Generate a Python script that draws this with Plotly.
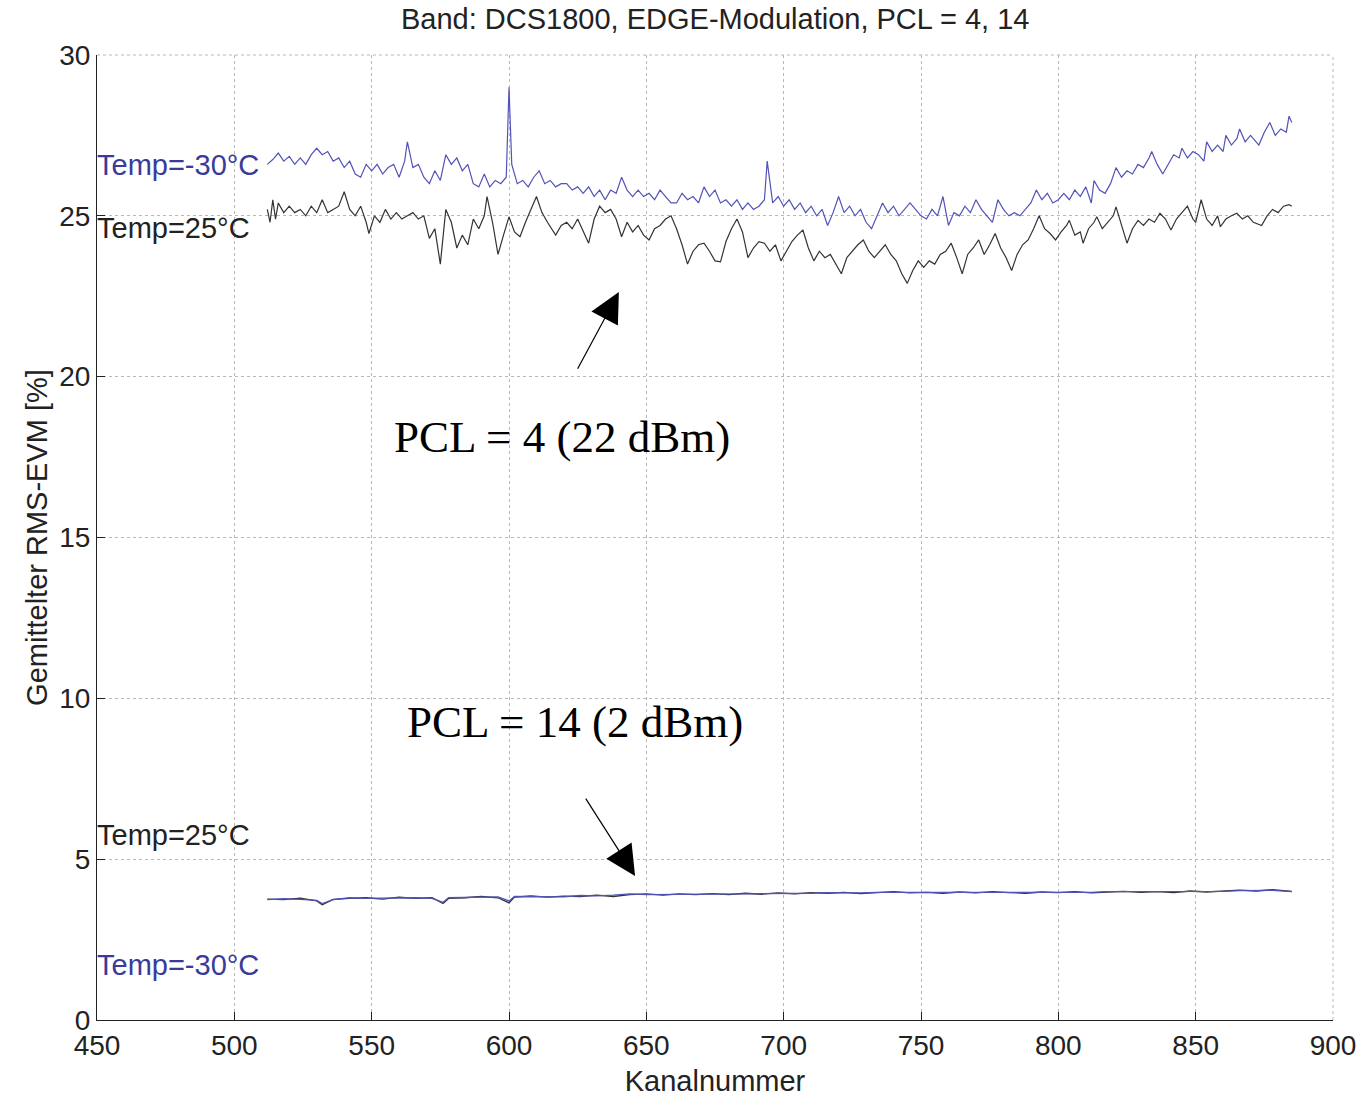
import plotly.graph_objects as go

# ---------------- data ----------------
ch_hi_m30 = [512,514,516,518,520,522,524,526,528,530,532,534,536,538,540,542,544,546,548,550,
             552,554,556,558,560,562,563,565,567,569,571,573,575,577,579,581,583,585,587,589,
             591,593,595,597,599,600,601,603,605,607,609,611,613,615,617,619,621,623,625,627,
             629,631,633,635,637,639,641,643,645,647,649,651,653,655,657,659,661,663,665,667,
             669,671,673,675,677,679,681,683,685,687,689,691,693,694,696,698,700,702,704,706,
             708,710,712,714,716,718,720,722,724,726,728,730,732,734,736,738,740,742,744,746,
             748,750,752,754,756,758,760,762,764,766,768,770,772,774,776,778,780,782,784,786,
             788,790,792,794,796,798,800,802,804,806,808,810,812,813,815,817,819,821,823,825,
             827,829,831,833,834,836,838,840,842,844,845,847,849,851,853,854,856,858,860,861,
             863,865,866,868,870,872,873,875,877,879,881,883,884,885]
evm_hi_m30 = [26.6,26.75,26.95,26.7,26.85,26.6,26.8,26.6,26.9,27.1,26.9,27.0,26.7,26.8,26.5,26.7,26.3,26.2,26.6,26.4,
              26.6,26.3,26.5,26.6,26.2,26.7,27.3,26.5,26.6,26.2,26.0,26.4,26.1,26.9,26.6,26.8,26.4,26.6,26.0,25.9,
              26.3,25.9,26.1,26.0,26.2,29.0,26.6,26.0,26.1,25.9,26.2,26.4,26.0,26.1,25.9,26.0,26.0,25.8,25.9,25.7,
              25.9,25.6,25.8,25.5,25.8,25.7,26.2,25.8,25.6,25.8,25.6,25.7,25.5,25.8,25.6,25.4,25.4,25.7,25.5,25.6,
              25.4,25.9,25.6,25.8,25.4,25.5,25.3,25.5,25.2,25.4,25.2,25.3,25.5,26.7,25.4,25.6,25.3,25.5,25.2,25.4,
              25.1,25.3,25.0,25.2,24.7,25.1,25.6,25.1,25.3,25.0,25.2,24.8,24.6,25.0,25.4,25.1,25.3,25.0,25.2,25.4,
              25.2,25.0,24.9,25.2,25.0,25.6,24.7,25.1,25.0,25.3,25.1,25.5,25.2,25.0,24.8,25.5,25.2,25.0,25.1,25.0,
              25.2,25.4,25.8,25.5,25.7,25.4,25.5,25.7,25.5,25.8,25.6,25.9,25.4,26.1,25.8,25.7,26.0,26.5,26.2,26.4,
              26.3,26.6,26.5,26.8,27.0,26.6,26.3,26.6,26.9,26.8,27.1,26.8,27.0,26.9,26.7,27.3,27.0,27.2,27.0,27.5,
              27.2,27.4,27.7,27.3,27.5,27.3,27.2,27.6,27.9,27.5,27.7,27.6,28.1,27.9]

ch_hi_25 = [512,513,514,515,516,518,520,522,524,526,528,530,532,534,536,538,540,542,544,546,
            548,549,551,553,555,557,559,561,563,565,567,569,571,573,575,577,579,581,583,585,
            587,589,591,592,594,596,598,600,602,604,606,608,610,612,614,617,619,621,623,625,
            627,629,631,633,635,637,639,641,643,645,647,649,651,653,655,657,659,661,663,665,
            667,669,671,673,675,677,679,681,683,685,687,689,691,693,695,697,699,701,703,705,
            707,709,711,713,715,717,719,721,723,725,727,729,731,733,735,737,739,741,743,745,
            747,749,751,753,755,757,759,761,763,765,767,769,771,773,775,777,779,781,783,785,
            787,789,791,793,795,797,799,801,803,804,806,808,809,811,813,814,816,818,820,821,
            823,825,827,829,831,833,835,837,839,841,843,845,847,849,850,852,854,856,858,859,
            861,863,865,867,869,871,874,876,878,880,882,884,885]
evm_hi_25 = [25.2,24.8,25.5,24.9,25.4,25.1,25.3,25.1,25.2,25.0,25.3,25.1,25.5,25.1,25.2,25.3,25.75,25.2,25.0,25.3,
             24.8,24.45,25.0,24.8,25.2,24.9,25.1,24.9,25.0,25.1,24.9,25.0,24.3,24.6,23.5,25.2,24.8,24.0,24.4,24.1,
             24.9,24.6,25.0,25.6,24.8,23.8,24.4,24.97,24.5,24.35,24.8,25.2,25.6,25.1,24.8,24.4,24.7,24.8,24.6,24.9,
             24.5,24.15,24.9,25.3,25.1,25.2,24.9,24.35,24.8,24.5,24.7,24.4,24.25,24.6,24.7,24.9,25.0,24.6,24.1,23.5,
             23.9,24.1,24.15,23.9,23.6,23.57,24.2,24.6,24.9,24.5,23.7,24.0,24.2,24.15,23.9,24.1,23.6,23.9,24.2,24.4,
             24.56,24.0,23.6,23.9,23.7,23.8,23.5,23.2,23.7,23.9,24.1,24.25,23.9,23.7,23.9,24.1,23.8,23.6,23.2,22.9,
             23.3,23.6,23.4,23.6,23.5,23.8,23.9,24.15,23.7,23.2,23.8,24.0,24.25,23.8,24.1,24.45,24.0,23.7,23.3,23.8,
             24.1,24.25,24.6,25.0,24.6,24.45,24.25,24.5,24.7,24.86,24.4,24.5,24.15,24.6,24.8,24.97,24.6,24.8,25.0,25.28,
             24.7,24.15,24.6,24.86,24.7,24.9,24.8,25.08,24.9,24.56,24.9,25.1,25.3,24.9,24.8,25.5,24.9,24.7,25.0,24.66,
             24.9,25.0,25.08,24.9,25.0,24.8,24.7,25.0,25.2,25.1,25.3,25.35,25.3]

ch_lo = [512,518,524,530,532,536,542,548,554,560,566,572,576,578,584,590,596,600,602,608,
         614,620,626,632,638,644,650,656,662,668,674,680,686,692,698,704,710,716,722,728,
         734,740,746,752,758,764,770,776,782,788,794,800,806,812,818,824,830,836,842,848,
         854,860,866,872,878,885]
evm_lo_25 = [3.76,3.74,3.79,3.70,3.58,3.75,3.78,3.80,3.76,3.82,3.78,3.80,3.62,3.78,3.80,3.84,3.80,3.64,3.82,3.86,
             3.82,3.85,3.84,3.88,3.84,3.90,3.92,3.88,3.92,3.90,3.93,3.90,3.94,3.91,3.95,3.92,3.96,3.94,3.97,3.93,
             3.96,3.99,3.95,3.97,3.94,3.98,3.95,3.99,3.96,3.94,3.98,3.96,3.99,3.95,3.98,4.00,3.97,3.99,3.96,4.01,
             3.98,4.02,4.04,4.01,4.05,4.00]
evm_lo_m30 = [3.74,3.77,3.75,3.72,3.62,3.74,3.80,3.78,3.79,3.80,3.80,3.78,3.66,3.80,3.82,3.82,3.83,3.70,3.84,3.84,
              3.85,3.83,3.87,3.86,3.88,3.92,3.90,3.90,3.90,3.92,3.91,3.92,3.92,3.93,3.93,3.94,3.94,3.96,3.95,3.95,
              3.97,3.97,3.96,3.96,3.96,3.97,3.97,3.97,3.97,3.96,3.97,3.98,3.97,3.97,3.99,3.99,3.98,3.98,3.98,3.99,
              4.00,4.00,4.02,4.03,4.03,3.99]

assert len(ch_hi_m30) == len(evm_hi_m30), (len(ch_hi_m30), len(evm_hi_m30))
assert len(ch_hi_25) == len(evm_hi_25), (len(ch_hi_25), len(evm_hi_25))
assert len(ch_lo) == len(evm_lo_25) == len(evm_lo_m30), (len(ch_lo), len(evm_lo_25), len(evm_lo_m30))

x_ticks = [450, 500, 550, 600, 650, 700, 750, 800, 850, 900]
y_ticks = [0, 5, 10, 15, 20, 25, 30]

title_text = "Band: DCS1800, EDGE-Modulation, PCL = 4, 14"
x_title = "Kanalnummer"
y_title = "Gemittelter RMS-EVM [%]"

# ---------------- style ----------------
BLUE = "#5252b8"
BLACK = "#333333"
SANS = "Liberation Sans, Arial, sans-serif"
SERIF = "Liberation Serif, Times New Roman, serif"
FS = 29
TICK_FS = 28
GRID = "#b8b8b8"

fig = go.Figure()
fig.add_trace(go.Scatter(x=ch_hi_25, y=evm_hi_25, mode="lines",
                         line=dict(color=BLACK, width=1.2), showlegend=False))
fig.add_trace(go.Scatter(x=ch_hi_m30, y=evm_hi_m30, mode="lines",
                         line=dict(color=BLUE, width=1.2), showlegend=False))
fig.add_trace(go.Scatter(x=ch_lo, y=evm_lo_25, mode="lines",
                         line=dict(color=BLACK, width=1.3), showlegend=False))
fig.add_trace(go.Scatter(x=ch_lo, y=evm_lo_m30, mode="lines",
                         line=dict(color=BLUE, width=1.3), showlegend=False))

anns = [
    dict(x=450, y=26.58, text="Temp=-30°C", color="#3a3a9a"),
    dict(x=450, y=24.62, text="Temp=25°C", color="#222222"),
    dict(x=450, y=5.75, text="Temp=25°C", color="#222222"),
    dict(x=450, y=1.71, text="Temp=-30°C", color="#3a3a9a"),
]
for a in anns:
    fig.add_annotation(x=a["x"], y=a["y"], text=a["text"], showarrow=False,
                       xanchor="left", yanchor="middle", xshift=-2,
                       font=dict(family=SANS, size=FS, color=a["color"]))

fig.add_annotation(x=619.3, y=18.12, text="PCL = 4 (22 dBm)", showarrow=False,
                   font=dict(family=SERIF, size=45, color="#000000"))
fig.add_annotation(x=624, y=9.26, text="PCL = 14 (2 dBm)", showarrow=False,
                   font=dict(family=SERIF, size=45, color="#000000"))

# arrows (tip, tail)
fig.add_annotation(x=640.0, y=22.63, ax=624.7, ay=20.2, xref="x", yref="y",
                   axref="x", ayref="y", text="", showarrow=True,
                   arrowhead=2, arrowsize=5.0, arrowwidth=1.2, arrowcolor="#000000")
fig.add_annotation(x=645.9, y=4.48, ax=627.6, ay=6.93, xref="x", yref="y",
                   axref="x", ayref="y", text="", showarrow=True,
                   arrowhead=2, arrowsize=5.0, arrowwidth=1.2, arrowcolor="#000000")

fig.add_annotation(x=0.5, y=1, xref="paper", yref="paper", yanchor="bottom", yshift=18,
                   text=title_text, showarrow=False,
                   font=dict(family=SANS, size=FS, color="#222222"))

# dotted frame on the top and right sides (matlab-style grid box)
fig.add_shape(type="line", xref="paper", yref="paper", x0=0, x1=1, y0=1, y1=1,
              line=dict(color=GRID, width=1, dash="dot"))
fig.add_shape(type="line", xref="paper", yref="paper", x0=1, x1=1, y0=0, y1=1,
              line=dict(color=GRID, width=1, dash="dot"))

axis_common = dict(
    showline=True, linecolor="#222222", linewidth=1.2,
    ticks="inside", ticklen=8, tickcolor="#222222", tickwidth=1,
    showgrid=True, gridcolor=GRID, griddash="dot", gridwidth=1,
    zeroline=False, mirror=False, automargin=False,
    tickfont=dict(family=SANS, size=TICK_FS, color="#222222"),
)

fig.update_layout(
    width=1362, height=1097,
    margin=dict(l=97, r=29, t=55, b=77),
    paper_bgcolor="white", plot_bgcolor="white",
    showlegend=False,
    xaxis=dict(range=[450, 900], tickvals=x_ticks, ticktext=[str(v) for v in x_ticks],
               title=dict(text=x_title, font=dict(family=SANS, size=FS, color="#222222"), standoff=10),
               **axis_common),
    yaxis=dict(range=[0, 30], tickvals=y_ticks, ticktext=[str(v) for v in y_ticks],
               title=dict(text=y_title, font=dict(family=SANS, size=FS, color="#222222"), standoff=2),
               **axis_common),
)

fig.write_html("out.html")
